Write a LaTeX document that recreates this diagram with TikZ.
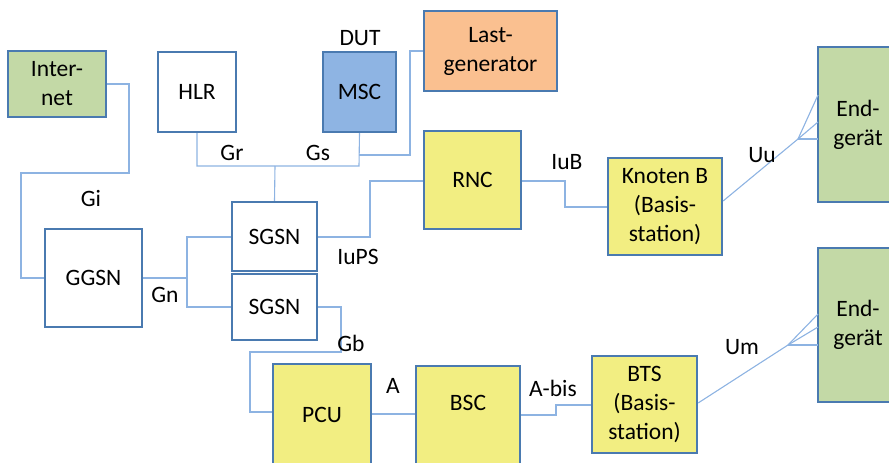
\documentclass[tikz,border=0pt]{standalone}
\usepackage{fontspec}
\setmainfont{Carlito}
\definecolor{bord}{HTML}{4A7AB0}
\definecolor{conn}{HTML}{8DB3E2}
\definecolor{ylw}{HTML}{F2EE82}
\definecolor{grn}{HTML}{C3D9A6}
\definecolor{org}{HTML}{FAC090}
\definecolor{mscblue}{HTML}{8EB4E3}
\begin{document}
\begin{tikzpicture}[x=1pt,y=-1pt,
  box/.style={draw=bord,line width=2.2pt,inner sep=0pt,align=center,font=\fontsize{23.5}{29}\selectfont},
  txt/.style={inner sep=0pt,align=center,font=\fontsize{23.5}{29}\selectfont},
  lbl/.style={inner sep=0pt,font=\fontsize{23.5}{29}\selectfont},
  cn/.style={draw=conn,line width=1.1pt}]
\useasboundingbox (0,0) rectangle (889,463);
\clip (0,0) rectangle (889,463);
\coordinate (gi1) at (129,84);
\coordinate (gi2) at (129,173);
\coordinate (gi3) at (21,173);
\coordinate (gi4) at (21,278);
\coordinate (gr1) at (197,166);
\coordinate (gs1) at (359,166);
\coordinate (gsj) at (275,166);
\coordinate (lg1) at (410,51);
\coordinate (lg2) at (410,155);
\coordinate (lg3) at (359,155);
\coordinate (gn0) at (187,278);
\coordinate (gn1) at (187,237);
\coordinate (gn2) at (187,307);
\coordinate (ps1) at (370,237);
\coordinate (ps2) at (370,181);
\coordinate (ub1) at (565,181);
\coordinate (ub2) at (565,207);
\coordinate (uu) at (798,139);
\coordinate (uua) at (818,95);
\coordinate (uub) at (818,122);
\coordinate (uuc) at (818,139);
\coordinate (gb1) at (341,307);
\coordinate (gb2) at (341,352);
\coordinate (gb3) at (250,352);
\coordinate (gb4) at (250,412);
\coordinate (ab1) at (556,415);
\coordinate (ab2) at (556,405);
\coordinate (um) at (788,345);
\coordinate (uma) at (818,314);
\coordinate (umb) at (818,327);
\coordinate (umc) at (818,345);
% boxes
\node[box,fill=grn,minimum width=98pt,minimum height=66pt] (inet) at (57,84) {Inter-\\net};
\node[box,fill=white,minimum width=78pt,minimum height=80pt] (hlr) at (197,92) {HLR};
\node[box,fill=mscblue,minimum width=73pt,minimum height=80pt] (msc) at (359.5,92) {MSC};
\node[box,fill=org,minimum width=133pt,minimum height=80pt] (last) at (490.5,51) {Last-\\generator};
\node[box,fill=white,minimum width=97pt,minimum height=98pt] (ggsn) at (93.5,278) {GGSN};
\node[box,fill=white,minimum width=85pt,minimum height=69pt] (sgsna) at (274.5,236.5) {SGSN};
\node[box,fill=white,minimum width=85pt,minimum height=66pt] (sgsnb) at (274.5,307) {SGSN};
\node[box,fill=ylw,minimum width=97pt,minimum height=98pt] (rnc) at (472.5,180) {RNC};
\node[box,fill=ylw,minimum width=114pt,minimum height=97pt] (knb) at (665,206.5) {Knoten B\\(Basis-\\station)};
\node[box,fill=grn,minimum width=80pt,minimum height=155pt] (enda) at (858,124.5) {End-\\gerät};
\node[box,fill=grn,minimum width=80pt,minimum height=154pt] (endb) at (858,325) {End-\\gerät};
\node[box,fill=ylw,minimum width=105pt,minimum height=97pt] (bts) at (644.5,404.5) {BTS\\(Basis-\\station)};
\node[box,fill=ylw,minimum width=98pt,minimum height=110pt] (pcu) at (322,419) {};
\node[txt] (pcut) at (322,415) {PCU};
\node[box,fill=ylw,minimum width=104pt,minimum height=110pt] (bsc) at (468,421) {};
\node[txt] (bsct) at (468,403) {BSC};
% connector paths
\draw[cn] (inet.east) -- (gi1) -- (gi2) -- (gi3) -- (gi4) -- (ggsn.west);
\draw[cn] (hlr.south) -- (gr1) -- (gs1) -- (msc.south);
\draw[cn] (gsj) -- (sgsna.north);
\draw[cn] (last.west) -- (lg1) -- (lg2) -- (lg3);
\draw[cn] (ggsn.east) -- (gn0);
\draw[cn] (sgsna.west |- gn1) -- (gn1) -- (gn2) -- (sgsnb.west |- gn2);
\draw[cn] (sgsna.east |- ps1) -- (ps1) -- (ps2) -- (rnc.west |- ps2);
\draw[cn] (rnc.east |- ub1) -- (ub1) -- (ub2) -- (knb.west |- ub2);
\draw[cn] ([yshift=5.5pt]knb.east) -- (uu) -- (uua);
\draw[cn] (uu) -- (uub);
\draw[cn] (uu) -- (uuc);
\draw[cn] (sgsnb.east |- gb1) -- (gb1) -- (gb2) -- (gb3) -- (gb4) -- (pcu.west |- gb4);
\draw[cn] (pcu.east |- 0,414) -- (bsc.west |- 0,414);
\draw[cn] (bsc.east |- ab1) -- (ab1) -- (ab2) -- (bts.west |- ab2);
\draw[cn] ([yshift=1.5pt]bts.east) -- (um) -- (uma);
\draw[cn] (um) -- (umb);
\draw[cn] (um) -- (umc);
% labels
\node[lbl] (dut) at (360,38) {DUT};
\node[lbl] (lgr) at (232,153) {Gr};
\node[lbl] (lgs) at (318,153) {Gs};
\node[lbl] (lgi) at (91,198) {Gi};
\node[lbl] (lgn) at (165,295) {Gn};
\node[lbl] (liups) at (358,257) {IuPS};
\node[lbl] (liub) at (567,162) {IuB};
\node[lbl] (luu) at (762,155) {Uu};
\node[lbl] (lgb) at (351,343) {Gb};
\node[lbl] (la) at (393,386) {A};
\node[lbl] (labis) at (553,388) {A-bis};
\node[lbl] (lum) at (742,347) {Um};
\end{tikzpicture}
\end{document}
